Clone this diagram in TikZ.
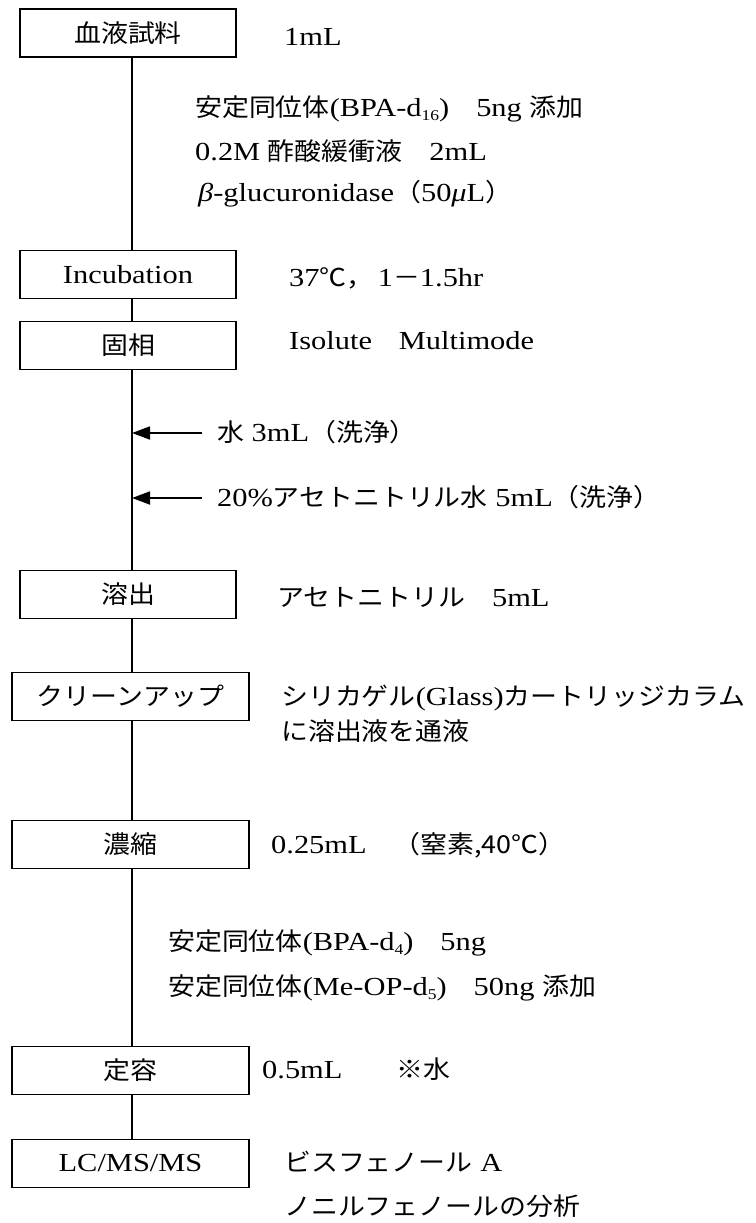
\documentclass[tikz,border=0pt]{standalone}
\usepackage{fontspec}
\setmainfont[FakeStretch=1.17]{Liberation Serif}
\newfontfamily\cjk[FakeStretch=1.09,Scale=0.95]{Noto Sans CJK JP}
\newcommand{\J}[1]{{\cjk #1}}
\newcommand{\subd}[1]{\raisebox{-0.15em}{\fontsize{15}{15}\selectfont #1}}
\usetikzlibrary{arrows.meta}
\begin{document}
\begin{tikzpicture}[x=1pt,y=-1pt,
  every node/.style={font=\fontsize{26}{30}\selectfont},
  box/.style={draw, line width=1.8pt, inner sep=0pt, minimum height=48pt},
  narrowbox/.style={box, minimum width=216pt},
  widebox/.style={box, minimum width=237pt},
  lbl/.style={anchor=base west, inner sep=0pt},
  flow/.style={line width=1.2pt},
  arr/.style={line width=1.8pt, -{Triangle[length=18pt,width=13pt]}}]
\useasboundingbox (0,0) rectangle (755,1223);
\coordinate (lx) at (132,0);
% boxes
\node[narrowbox] (b1) at (128,33) {\J{血液試料}};
\node[narrowbox] (b2) at (128,274.5) {Incubation};
\node[narrowbox] (b3) at (128,345.5) {\J{固相}};
\node[narrowbox] (b4) at (128,594.5) {\J{溶出}};
\node[widebox] (b5) at (130.5,696.5) {\J{クリーンアップ}};
\node[widebox] (b6) at (130.5,844.5) {\J{濃縮}};
\node[widebox] (b7) at (130.5,1070.5) {\J{定容}};
\node[widebox] (b8) at (130.5,1163.5) {LC/MS/MS};
% connectors
\draw[flow] (b1.south -| lx) -- (b2.north -| lx);
\draw[flow] (b2.south -| lx) -- (b3.north -| lx);
\draw[flow] (b3.south -| lx) -- (b4.north -| lx);
\draw[flow] (b4.south -| lx) -- (b5.north -| lx);
\draw[flow] (b5.south -| lx) -- (b6.north -| lx);
\draw[flow] (b6.south -| lx) -- (b7.north -| lx);
\draw[flow] (b7.south -| lx) -- (b8.north -| lx);
% arrows
\coordinate (a1) at (132,433);
\coordinate (a1s) at (202,433);
\coordinate (a2) at (132,498);
\coordinate (a2s) at (202,498);
\draw[arr] (a1s) -- (a1);
\draw[arr] (a2s) -- (a2);
% labels
\node[lbl] (t1) at (284,45.5) {1mL};
\node[lbl] (t2) at (195,116.5) {\J{安定同位体}(BPA-d\subd{16})\J{　}5ng \J{添加}};
\node[lbl] (t3) at (195,160.5) {0.2M \J{酢酸緩衝液　}2mL};
\node[lbl] (t4) at (198,201.5) {\textit{β}-glucuronidase\J{（}50\textit{μ}L\J{）}};
\node[lbl] (t5) at (289,286.5) {37\J{℃，}\,1\J{－}1.5hr};
\node[lbl] (t6) at (289,349.5) {Isolute\J{　}Multimode};
\node[lbl] (t7) at (217,441.5) {\J{水} 3mL\J{（洗浄）}};
\node[lbl] (t8) at (217,506.5) {20\%\J{アセトニトリル水} 5mL\J{（洗浄）}};
\node[lbl] (t9) at (277,606.5) {\J{アセトニトリル　}5mL};
\node[lbl] (t10) at (281,705.5) {\J{シリカゲル}(Glass)\J{カートリッジカラム}};
\node[lbl] (t11) at (281,740.5) {\J{に溶出液を通液}};
\node[lbl] (t12) at (271,853.5) {0.25mL\J{　（窒素,40℃）}};
\node[lbl] (t13) at (168,950.5) {\J{安定同位体}(BPA-d\subd{4})\J{　}5ng};
\node[lbl] (t14) at (168,995.5) {\J{安定同位体}(Me-OP-d\subd{5})\J{　}50ng \J{添加}};
\node[lbl] (t15) at (262,1078.5) {0.5mL\J{　　※水}};
\node[lbl] (t16) at (284,1171.5) {\J{ビスフェノール} A};
\node[lbl] (t17) at (284,1215.5) {\J{ノニルフェノールの分析}};
\end{tikzpicture}
\end{document}
